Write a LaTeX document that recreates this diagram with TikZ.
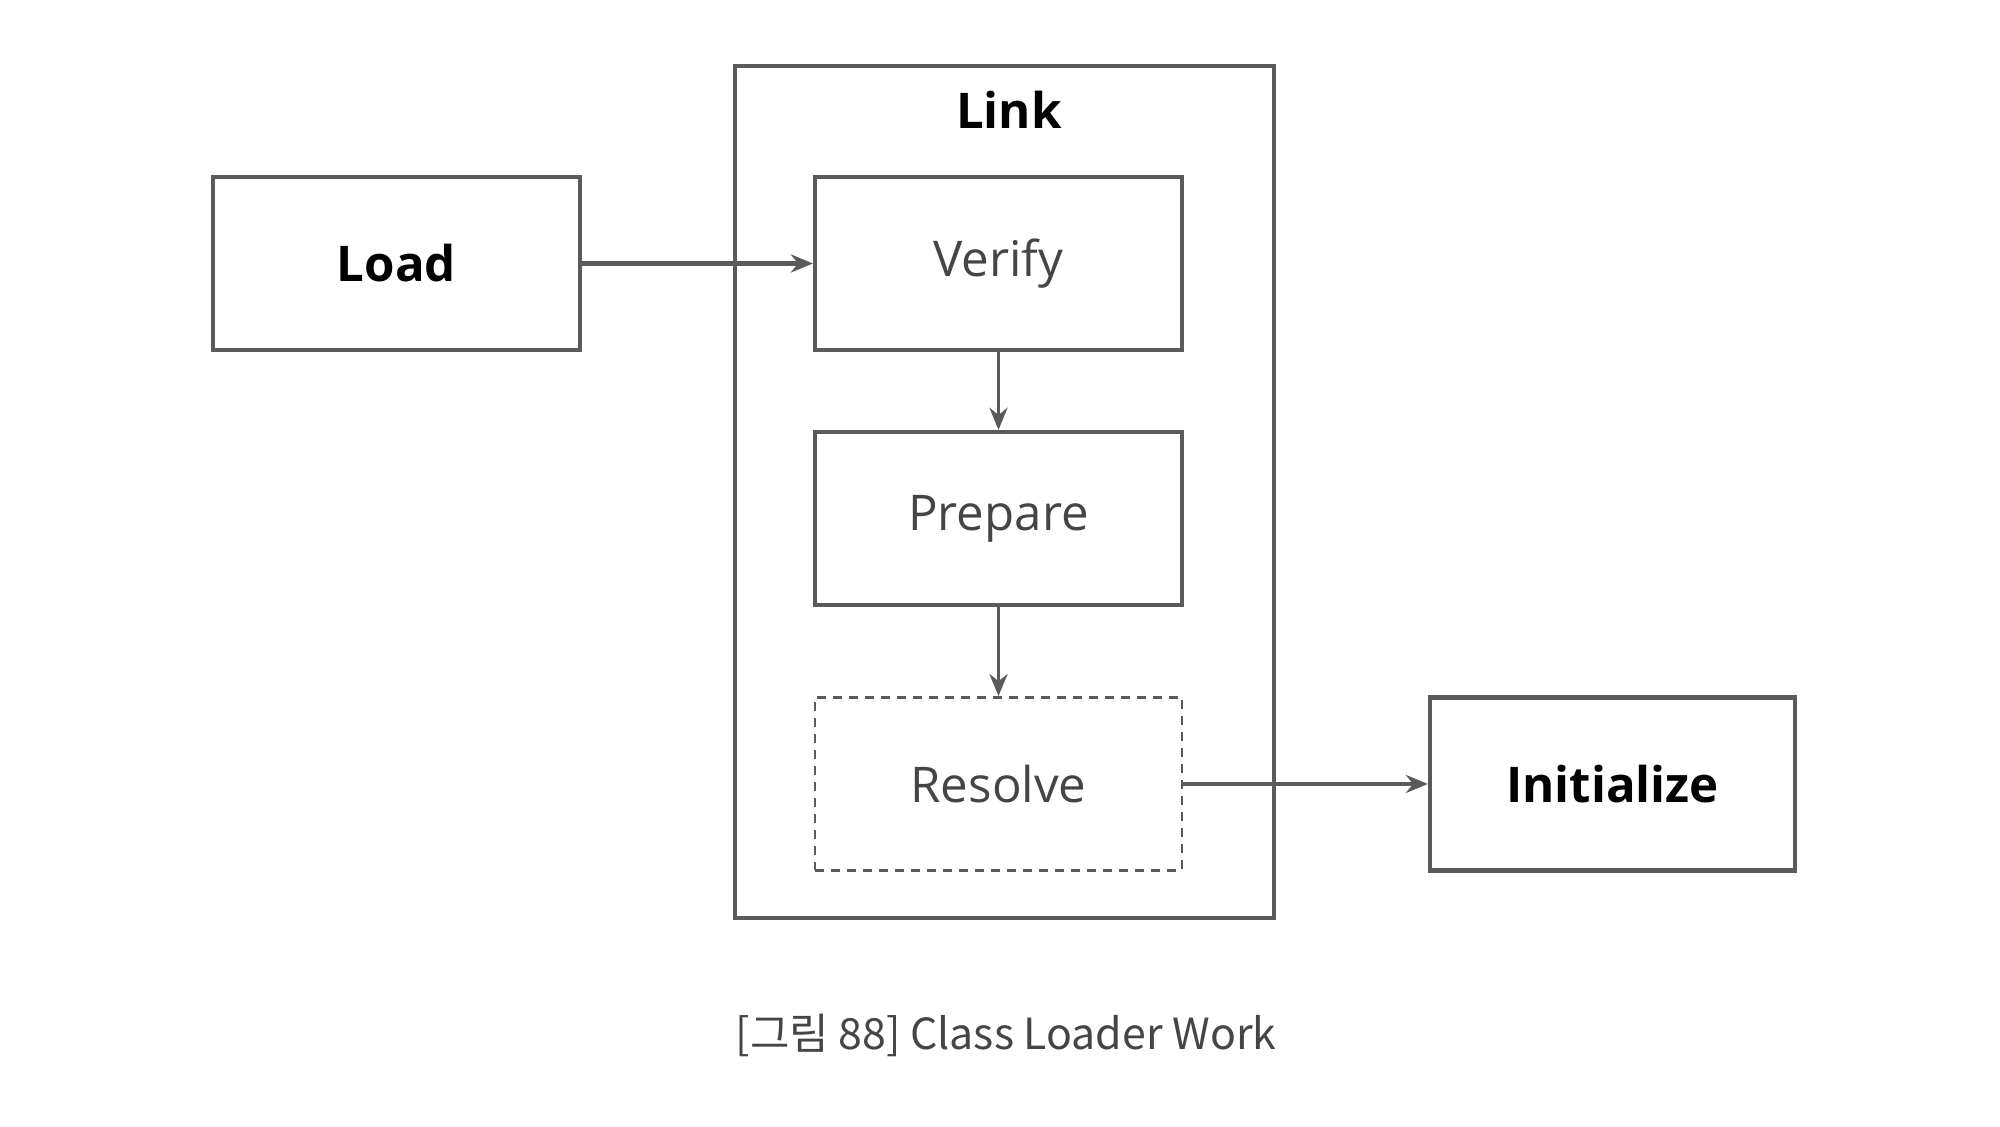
\documentclass[tikz,border=0pt]{standalone}
\usepackage{fontspec}
\setmainfont{Open Sans}
\newfontfamily\kofont{Noto Sans CJK KR}
\usetikzlibrary{arrows.meta}
\definecolor{linegray}{HTML}{5A5A5A}
\definecolor{textgray}{HTML}{454545}
\tikzset{
	stagebox/.style={draw=linegray, line width=1.2pt, minimum width=3.67cm, minimum height=1.73cm, inner sep=0pt},
	mainstage/.style={stagebox, font=\fontsize{14}{16}\selectfont\bfseries, text=black},
	substage/.style={stagebox, font=\fontsize{14}{16}\selectfont, text=textgray},
	flow/.style={draw=linegray, line width=1.1pt, -{Stealth[length=2.2mm, width=1.8mm]}}
}
\begin{document}
\begin{tikzpicture}
	\useasboundingbox (0,0) rectangle (20,11.27);
	
	\draw[linegray, line width=1.2pt] (7.35,2.09) rectangle (12.74,10.61);
	\node[font=\fontsize{14}{16}\selectfont\bfseries] (link) at (10.09,10.17) {Link};
	
	\node[mainstage] (load) at (3.965,8.635) {Load};
	\node[substage] (verify) at (9.985,8.635) {Verify};
	\node[substage] (prepare) at (9.985,6.085) {Prepare};
	\node[substage, line width=0.8pt, dash pattern=on 0.09cm off 0.07cm] (resolve) at (9.985,3.43) {Resolve};
	\node[mainstage, minimum width=3.65cm] (init) at (16.125,3.43) {Initialize};
	
	\draw[flow, line width=1.4pt] (load) -- (verify);
	\draw[flow] (verify) -- (prepare);
	\draw[flow] (prepare) -- (resolve);
	\draw[flow, line width=1.4pt] (resolve) -- (init);
	
	\node[font=\kofont\fontsize{12.2}{14}\selectfont, text=textgray] (caption) at (10.06,0.92) {[그림 88] Class Loader Work};
	
\end{tikzpicture}
\end{document}
